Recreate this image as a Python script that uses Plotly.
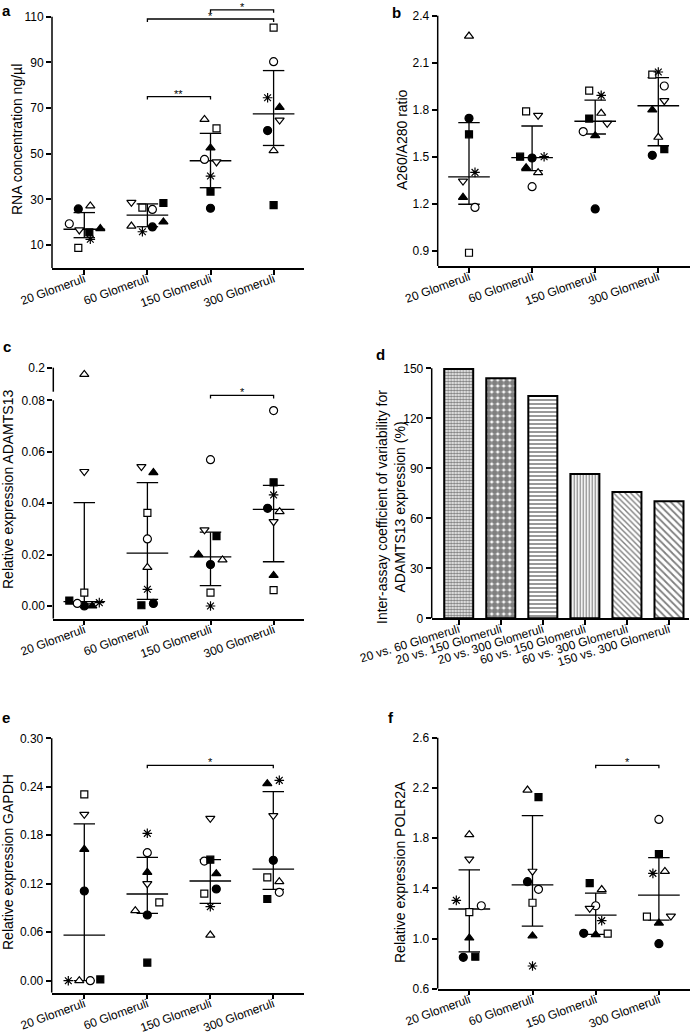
import plotly.graph_objects as go

W, H = 691, 1035

# ---------------------------------------------------------------- data
GROUPS = ["20 Glomeruli", "60 Glomeruli", "150 Glomeruli", "300 Glomeruli"]
SAMPLES = ["Sample 1", "Sample 2", "Sample 3", "Sample 4",
           "Sample 5", "Sample 6", "Sample 7", "Sample 8"]

# (a) RNA concentration ng/µl
RNA_CONC = {
    "Sample 1": [25.8, 17.9, 26.1, 60.1],
    "Sample 2": [19.3, 25.6, 47.5, 90.3],
    "Sample 3": [15.5, 28.4, 33.4, 27.5],
    "Sample 4": [8.7, 26.4, 61.1, 105.2],
    "Sample 5": [17.2, 20.1, 52.5, 70.3],
    "Sample 6": [27.1, 18.3, 65.0, 51.3],
    "Sample 7": [16.6, 28.7, 46.4, 64.7],
    "Sample 8": [12.5, 15.8, 40.2, 74.5],
}
RNA_MEDIAN = [16.9, 23.1, 46.9, 67.4]
RNA_Q1 = [13.2, 18.0, 35.1, 53.6]
RNA_Q3 = [24.2, 28.0, 58.9, 86.4]
RNA_SIG = [(1, 2, "**"), (1, 3, "*"), (2, 3, "*")]

# (b) A260/A280 ratio
PURITY = {
    "Sample 1": [1.746, 1.493, 1.168, 1.510],
    "Sample 2": [1.178, 1.310, 1.661, 1.952],
    "Sample 3": [1.644, 1.501, 1.744, 1.550],
    "Sample 4": [0.889, 1.790, 1.922, 2.024],
    "Sample 5": [1.242, 1.431, 1.635, 1.799],
    "Sample 6": [2.270, 1.399, 1.778, 1.625],
    "Sample 7": [1.346, 1.765, 1.714, 1.858],
    "Sample 8": [1.401, 1.501, 1.892, 2.041],
}
PURITY_MEDIAN = [1.372, 1.495, 1.727, 1.826]
PURITY_Q1 = [1.198, 1.412, 1.646, 1.571]
PURITY_Q3 = [1.718, 1.697, 1.862, 2.005]

# (c) Relative expression ADAMTS13
ADAMTS13 = {
    "Sample 1": [0.0000, 0.0010, 0.0161, 0.0380],
    "Sample 2": [0.0010, 0.0261, 0.0569, 0.0760],
    "Sample 3": [0.0021, 0.0003, 0.0272, 0.0481],
    "Sample 4": [0.0052, 0.0362, 0.0052, 0.0062],
    "Sample 5": [0.0000, 0.0519, 0.0200, 0.0119],
    "Sample 6": [0.1720, 0.0150, 0.0179, 0.0367],
    "Sample 7": [0.0523, 0.0542, 0.0296, 0.0328],
    "Sample 8": [0.0013, 0.0065, 0.0000, 0.0432],
}
ADAMTS13_MEDIAN = [0.0017, 0.0206, 0.0191, 0.0376]
ADAMTS13_Q1 = [0.0008, 0.0026, 0.0079, 0.0172]
ADAMTS13_Q3 = [0.0402, 0.0480, 0.0287, 0.0469]
ADAMTS13_SIG = [(2, 3, "*")]

# (d) Inter-assay coefficient of variability (%)
CV_PAIRS = ["20 vs. 60 Glomeruli", "20 vs. 150 Glomeruli", "20 vs. 300 Glomeruli",
            "60 vs. 150 Glomeruli", "60 vs. 300 Glomeruli", "150 vs. 300 Glomeruli"]
CV_VALUES = [149.6, 144.0, 133.4, 86.6, 75.8, 70.2]

# (e) Relative expression GAPDH
GAPDH = {
    "Sample 1": [0.1110, 0.0813, 0.1135, 0.1490],
    "Sample 2": [0.0000, 0.1585, 0.1481, 0.1094],
    "Sample 3": [0.0016, 0.0223, 0.1498, 0.1011],
    "Sample 4": [0.2307, 0.0970, 0.1077, 0.1279],
    "Sample 5": [0.1626, 0.1341, 0.1325, 0.2439],
    "Sample 6": [0.0000, 0.0867, 0.0565, 0.1226],
    "Sample 7": [0.2059, 0.1201, 0.2010, 0.2043],
    "Sample 8": [0.0000, 0.1824, 0.0916, 0.2480],
}
GAPDH_MEDIAN = [0.0565, 0.1073, 0.1234, 0.1382]
GAPDH_Q1 = [0.0000, 0.0834, 0.0957, 0.1130]
GAPDH_Q3 = [0.1940, 0.1527, 0.1498, 0.2340]
GAPDH_SIG = [(1, 3, "*")]

# (f) Relative expression POLR2A
POLR2A = {
    "Sample 1": [0.850, 1.453, 1.041, 0.959],
    "Sample 2": [1.261, 1.392, 1.261, 1.949],
    "Sample 3": [0.855, 2.127, 1.441, 1.673],
    "Sample 4": [1.210, 1.285, 1.039, 1.174],
    "Sample 5": [1.004, 1.021, 1.031, 1.123],
    "Sample 6": [1.827, 2.183, 1.390, 1.535],
    "Sample 7": [1.633, 1.536, 1.240, 1.179],
    "Sample 8": [1.304, 0.781, 1.142, 1.519],
}
POLR2A_MEDIAN = [1.235, 1.427, 1.187, 1.346]
POLR2A_Q1 = [0.893, 1.099, 1.033, 1.147]
POLR2A_Q3 = [1.547, 1.979, 1.362, 1.644]
POLR2A_SIG = [(2, 3, "*")]

# ---------------------------------------------------------------- style / layout
FONT = "Liberation Sans, Arial, sans-serif"
TICK_SIZE = 12
TITLE_SIZE = 14

MARKERS = {
    "Sample 1": dict(symbol="circle", color="black", size=8),
    "Sample 2": dict(symbol="circle", color="white", size=8),
    "Sample 3": dict(symbol="square", color="black", size=7),
    "Sample 4": dict(symbol="square", color="white", size=7),
    "Sample 5": dict(symbol="triangle-up", color="black", size=8),
    "Sample 6": dict(symbol="triangle-up", color="white", size=8),
    "Sample 7": dict(symbol="triangle-down", color="white", size=8),
    "Sample 8": dict(symbol="asterisk-open", color="black", size=8),
}

# horizontal jitter of the symbols, in pixels
JITTER = {
    "a": {"Sample 1": [-6, 5, 0, -6], "Sample 2": [-15, 5, -6, 0], "Sample 3": [5, 16, 0, 0],
          "Sample 4": [-6, -5, 6, 0], "Sample 5": [16, 16, 0, 6], "Sample 6": [6, -16, -6, 0],
          "Sample 7": [-5, -16, 6, 6], "Sample 8": [6, -5, 0, -6]},
    "b": {"Sample 1": [0, 0, 0, -6], "Sample 2": [6, 0, -12, 6], "Sample 3": [0, -12, -6, 6],
          "Sample 4": [0, -6, -6, -6], "Sample 5": [-6, -6, 0, -6], "Sample 6": [0, 6, 6, 0],
          "Sample 7": [-6, 6, 12, 6], "Sample 8": [6, 12, 6, 0]},
    "c": {"Sample 1": [0, 6, 0, -6], "Sample 2": [-7, 0, 0, 0], "Sample 3": [-15, -6, 6, 0],
          "Sample 4": [0, 0, 0, 0], "Sample 5": [8, 6, -12, 0], "Sample 6": [0, 0, 12, 6],
          "Sample 7": [0, -6, -6, 0], "Sample 8": [15, 0, 0, 0]},
    "e": {"Sample 1": [0, 0, 6, 0], "Sample 2": [6, 0, -6, 6], "Sample 3": [16, 0, 0, -6],
          "Sample 4": [0, 12, -6, -6], "Sample 5": [0, 0, 6, -6], "Sample 6": [-5, -12, 0, 6],
          "Sample 7": [0, 0, 0, 0], "Sample 8": [-16, 0, 0, 6]},
    "f": {"Sample 1": [-6, -5, -12, 0], "Sample 2": [12, 6, 0, 0], "Sample 3": [6, 6, -6, 0],
          "Sample 4": [0, 0, 12, -12], "Sample 5": [0, 0, 0, 0], "Sample 6": [0, -5, 6, 6],
          "Sample 7": [0, 0, -6, 12], "Sample 8": [-13, 0, 6, -6]},
}

# pixel geometry of each panel: x axis (left, right, first category, step),
# y calibration ((px, value), (px, value)), plot top / bottom px, axis-line top value
GEOM = {
    "a": dict(n=1, x=(52, 304, 84.3, 63.1), cal=((16.7, 110), (245, 10)), top=3, bottom=268, ltop=110),
    "b": dict(n=2, x=(437.7, 690, 469, 63.1), cal=((15.7, 2.4), (251, 0.9)), top=12, bottom=266, ltop=2.4),
    "c": dict(n=3, x=(53.3, 304, 84.3, 63.1), cal=((400.3, 0.08), (606, 0.0)), top=392, bottom=618.7, ltop=0.08),
    "cu": dict(n=7, cal=((367.7, 0.2), (391.7, 0.1)), top=362, bottom=392, lbot=0.1, ltop=0.2),
    "d": dict(n=4, x=(431.7, 689.3, 458.7, 42.06), cal=((368.3, 150), (618.3, 0)), top=362, bottom=618.3, ltop=150),
    "e": dict(n=5, x=(51.7, 304, 84.3, 63.0), cal=((738.3, 0.30), (980.7, 0.0)), top=735, bottom=992.7, ltop=0.30),
    "f": dict(n=6, x=(437.7, 690, 469.3, 63.2), cal=((737.7, 2.6), (988.7, 0.6)), top=735, bottom=988.7, ltop=2.6),
}
BRACKET_Y = {"a": [75.0, 109.0, 113.0], "c": [0.0819], "e": [0.2666], "f": [2.38]}

YTICKS = {
    "a": ([10, 30, 50, 70, 90, 110], ["10", "30", "50", "70", "90", "110"]),
    "b": ([0.9, 1.2, 1.5, 1.8, 2.1, 2.4], ["0.9", "1.2", "1.5", "1.8", "2.1", "2.4"]),
    "c": ([0, 0.02, 0.04, 0.06, 0.08], ["0.00", "0.02", "0.04", "0.06", "0.08"]),
    "cu": ([0.2], ["0.2"]),
    "d": ([0, 30, 60, 90, 120, 150], ["0", "30", "60", "90", "120", "150"]),
    "e": ([0, 0.06, 0.12, 0.18, 0.24, 0.30], ["0.00", "0.06", "0.12", "0.18", "0.24", "0.30"]),
    "f": ([0.6, 1.0, 1.4, 1.8, 2.2, 2.6], ["0.6", "1.0", "1.4", "1.8", "2.2", "2.6"]),
}


def ref(kind, n):
    return kind if n == 1 else f"{kind}{n}"


def lname(kind, n):
    return f"{kind}axis" if n == 1 else f"{kind}axis{n}"


def y_setup(g):
    (p1, v1), (p2, v2) = g["cal"]
    k = (v2 - v1) / (p2 - p1)
    f = lambda p: v1 + (p - p1) * k
    return [1 - g["bottom"] / H, 1 - g["top"] / H], [f(g["bottom"]), f(g["top"])], abs(k)


def x_setup(g):
    left, right, c0, step = g["x"]
    return [left / W, right / W], [(left - c0) / step, (right - c0) / step], step


fig = go.Figure()
shapes, annotations = [], []
AX = dict(showgrid=False, zeroline=False, ticks="outside", ticklen=5, tickwidth=1.5,
          tickcolor="black", tickfont=dict(size=TICK_SIZE, color="black", family=FONT),
          linecolor="black", linewidth=1.5, fixedrange=True, automargin=False)
layout_axes = {}
per_px = {}
steps = {}

for key, g in GEOM.items():
    n = g["n"]
    ydom, yrng, vpp = y_setup(g)
    per_px[key] = vpp
    tv, tt = YTICKS[key]
    anchor_x = ref("x", 3 if key == "cu" else n)
    layout_axes[lname("y", n)] = dict(AX, domain=ydom, range=yrng, anchor=anchor_x, showline=False,
                                       tickmode="array", tickvals=tv, ticktext=tt)
    shapes.append(dict(type="line", xref=f"{anchor_x} domain", x0=0, x1=0, yref=ref("y", n),
                       y0=g.get("lbot", yrng[0]), y1=g["ltop"], line=dict(color="black", width=1.5)))
    if key == "cu":
        continue
    xdom, xrng, step = x_setup(g)
    steps[key] = step
    if key == "d":
        tvx, ttx, ang = list(range(len(CV_PAIRS))), CV_PAIRS, -17
    else:
        tvx, ttx, ang = list(range(len(GROUPS))), GROUPS, -20
    layout_axes[lname("x", n)] = dict(AX, domain=xdom, range=xrng, anchor=ref("y", n), showline=True,
                                       tickmode="array", tickvals=tvx, ticktext=ttx, tickangle=ang,
                                       ticklabelstandoff=-7)


def add_dot_panel(key, data, med, q1, q3, sig=(), upper=None, brk=None):
    n = GEOM[key]["n"]
    xa, ya = ref("x", n), ref("y", n)
    step = steps[key]
    # median with interquartile range
    xs, ys = [], []
    for i in range(len(med)):
        xs += [i - 0.33, i + 0.33, None, i - 0.17, i + 0.17, None, i - 0.17, i + 0.17, None, i, i, None]
        ys += [med[i], med[i], None, q1[i], q1[i], None, q3[i], q3[i], None, q1[i], q3[i], None]
    fig.add_trace(go.Scatter(x=xs, y=ys, mode="lines", line=dict(color="black", width=1.3),
                             xaxis=xa, yaxis=ya, hoverinfo="skip"))
    for s in SAMPLES:
        m = MARKERS[s]
        xv = [i + JITTER[key][s][i] / step for i in range(len(GROUPS))]
        yv = data[s]
        marker = dict(symbol=m["symbol"], size=m["size"], color=m["color"],
                      line=dict(color="black", width=1.2))
        if brk is None:
            fig.add_trace(go.Scatter(x=xv, y=yv, mode="markers", marker=marker, name=s,
                                     xaxis=xa, yaxis=ya))
        else:
            lo = [v if v <= brk else None for v in yv]
            hi = [v if v > brk else None for v in yv]
            fig.add_trace(go.Scatter(x=xv, y=lo, mode="markers", marker=marker, name=s,
                                     xaxis=xa, yaxis=ya))
            if any(v is not None for v in hi):
                fig.add_trace(go.Scatter(x=xv, y=hi, mode="markers", marker=marker, name=s,
                                         xaxis=xa, yaxis=ref("y", upper), cliponaxis=False))
    # significance brackets
    dy = 3 * per_px[key]
    for (i, j, txt), h in zip(sig, BRACKET_Y.get(key, [])):
        fig.add_trace(go.Scatter(x=[i, i, j, j], y=[h - dy, h, h, h - dy], mode="lines",
                                 line=dict(color="black", width=1.3), xaxis=xa, yaxis=ya,
                                 hoverinfo="skip", cliponaxis=False))
        annotations.append(dict(x=(i + j) / 2, y=h, xref=xa, yref=ya, text=txt, showarrow=False,
                                yanchor="middle", yshift=3, font=dict(size=11, family=FONT, color="black")))


add_dot_panel("a", RNA_CONC, RNA_MEDIAN, RNA_Q1, RNA_Q3, RNA_SIG)
add_dot_panel("b", PURITY, PURITY_MEDIAN, PURITY_Q1, PURITY_Q3)
add_dot_panel("c", ADAMTS13, ADAMTS13_MEDIAN, ADAMTS13_Q1, ADAMTS13_Q3, ADAMTS13_SIG, upper=7, brk=0.08)
add_dot_panel("e", GAPDH, GAPDH_MEDIAN, GAPDH_Q1, GAPDH_Q3, GAPDH_SIG)
add_dot_panel("f", POLR2A, POLR2A_MEDIAN, POLR2A_Q1, POLR2A_Q3, POLR2A_SIG)

# (d) bars with hatch patterns
fig.add_trace(go.Bar(
    x=list(range(len(CV_PAIRS))), y=CV_VALUES, width=0.69, xaxis="x4", yaxis="y4",
    marker=dict(color="white", line=dict(color="black", width=2),
                pattern=dict(shape=[".", ".", "-", "|", "\\", "\\"],
                             size=[3, 6, 4, 3, 4, 5],
                             solidity=[0.55, 0.75, 0.4, 0.4, 0.35, 0.35],
                             fgcolor="black", bgcolor="white", fillmode="overlay")),
))

# axis titles and panel letters (pixel positions)
TITLES = [
    ("RNA concentration ng/µl", 17, 140),
    ("A260/A280 ratio", 402, 139),
    ("Relative expression ADAMTS13", 8, 490),
    ("Inter-assay coefficient of variability for<br>ADAMTS13 expression (%)", 391, 507),
    ("Relative expression GAPDH", 8, 862),
    ("Relative expression POLR2A", 400, 872),
]
for txt, px, py in TITLES:
    annotations.append(dict(x=px / W, y=1 - py / H, xref="paper", yref="paper", text=txt,
                            textangle=-90, showarrow=False, xanchor="center", yanchor="middle",
                            font=dict(size=TITLE_SIZE, family=FONT, color="black")))
LETTERS = [("a", 6, 10), ("b", 397, 12), ("c", 7, 346), ("d", 380, 355), ("e", 6, 717), ("f", 391, 717)]
for txt, px, py in LETTERS:
    annotations.append(dict(x=px / W, y=1 - py / H, xref="paper", yref="paper", text=f"<b>{txt}</b>",
                            showarrow=False, xanchor="center", yanchor="middle",
                            font=dict(size=15, family=FONT, color="black")))

fig.update_layout(
    width=W, height=H, margin=dict(l=0, r=0, t=0, b=0, pad=0, autoexpand=False),
    paper_bgcolor="white", plot_bgcolor="white", showlegend=False,
    font=dict(family=FONT, color="black"),
    shapes=shapes, annotations=annotations, **layout_axes,
)
fig.write_html("out.html", config={"displayModeBar": False},
               post_script="document.body.style.margin='0';document.body.style.padding='0';")
